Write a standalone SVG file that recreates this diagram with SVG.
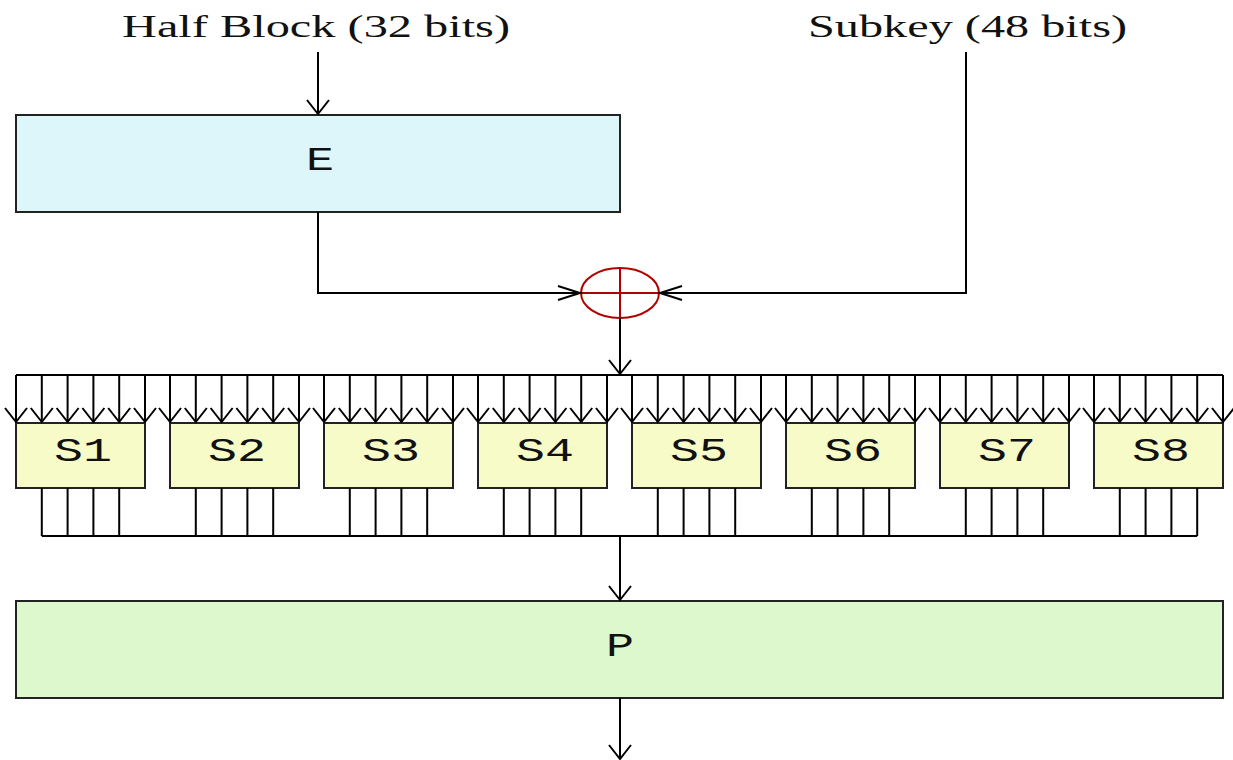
<svg xmlns="http://www.w3.org/2000/svg" width="1233" height="760" viewBox="0 0 1233 760">
<style>
.ln{stroke:#000;stroke-width:2;fill:none}
.box{stroke:#222;stroke-width:2}
.sb{fill:#f6fbc8}
.lbl{font-family:"Liberation Serif",serif;font-size:32px;fill:#111}
.mono{font-family:"Liberation Mono",monospace;font-size:34px;fill:#111;text-anchor:middle}
.xor{stroke:#b00000;stroke-width:2;fill:none}
</style>
<defs>
<marker id="down" markerUnits="userSpaceOnUse" markerWidth="30" markerHeight="30" refX="0" refY="0" overflow="visible" orient="0">
<path d="M-11,-14 L0,0 L11,-14" stroke="#000" stroke-width="2" fill="none"/>
</marker>
<marker id="right" markerUnits="userSpaceOnUse" markerWidth="30" markerHeight="30" refX="0" refY="0" overflow="visible" orient="0">
<path d="M-22,-7 L0,0 L-22,7" stroke="#000" stroke-width="2" fill="none"/>
</marker>
<marker id="left" markerUnits="userSpaceOnUse" markerWidth="30" markerHeight="30" refX="0" refY="0" overflow="visible" orient="0">
<path d="M22,-7 L0,0 L22,7" stroke="#000" stroke-width="2" fill="none"/>
</marker>
</defs>
<rect width="1233" height="760" fill="#fff"/>
<g id="labels">
<text class="lbl" x="122" y="37" textLength="388" lengthAdjust="spacingAndGlyphs">Half Block (32 bits)</text>
<text class="lbl" x="808" y="37" textLength="319" lengthAdjust="spacingAndGlyphs">Subkey (48 bits)</text>
</g>
<g id="E">
<rect class="box" x="16" y="115" width="604" height="97" fill="#dcf6fa"/>
<text class="mono" x="320" y="170" textLength="28" lengthAdjust="spacingAndGlyphs">E</text>
</g>
<g id="XOR">
<ellipse class="xor" cx="620" cy="293" rx="39" ry="25"/>
<path class="xor" d="M581,293 H659 M620,268 V318"/>
</g>
<g id="S1"><rect class="box sb" x="16" y="423" width="129" height="65"/><text class="mono" x="83" y="461" textLength="58" lengthAdjust="spacingAndGlyphs">S1</text></g>
<g id="S2"><rect class="box sb" x="170" y="423" width="129" height="65"/><text class="mono" x="237" y="461" textLength="58" lengthAdjust="spacingAndGlyphs">S2</text></g>
<g id="S3"><rect class="box sb" x="324" y="423" width="129" height="65"/><text class="mono" x="391" y="461" textLength="58" lengthAdjust="spacingAndGlyphs">S3</text></g>
<g id="S4"><rect class="box sb" x="478" y="423" width="129" height="65"/><text class="mono" x="545" y="461" textLength="58" lengthAdjust="spacingAndGlyphs">S4</text></g>
<g id="S5"><rect class="box sb" x="632" y="423" width="129" height="65"/><text class="mono" x="699" y="461" textLength="58" lengthAdjust="spacingAndGlyphs">S5</text></g>
<g id="S6"><rect class="box sb" x="786" y="423" width="129" height="65"/><text class="mono" x="853" y="461" textLength="58" lengthAdjust="spacingAndGlyphs">S6</text></g>
<g id="S7"><rect class="box sb" x="940" y="423" width="129" height="65"/><text class="mono" x="1007" y="461" textLength="58" lengthAdjust="spacingAndGlyphs">S7</text></g>
<g id="S8"><rect class="box sb" x="1094" y="423" width="129" height="65"/><text class="mono" x="1161" y="461" textLength="58" lengthAdjust="spacingAndGlyphs">S8</text></g>
<g id="P">
<rect class="box" x="16" y="601" width="1207" height="97" fill="#dcf8cc"/>
<text class="mono" x="620" y="656" textLength="28" lengthAdjust="spacingAndGlyphs">P</text>
</g>
<g id="connectors">
<path class="ln" d="M318,52 V114" marker-end="url(#down)"/>
<path class="ln" d="M318,212 V293 H580" marker-end="url(#right)"/>
<path class="ln" d="M966,52 V293 H660" marker-end="url(#left)"/>
<path class="ln" d="M620,318 V374" marker-end="url(#down)"/>
<path class="ln" d="M16,375 H1223"/>
<g marker-end="url(#down)" class="ln">
<path d="M16,375 V422"/><path d="M41.8,375 V422"/><path d="M67.6,375 V422"/><path d="M93.4,375 V422"/><path d="M119.2,375 V422"/><path d="M145,375 V422"/>
<path d="M170,375 V422"/><path d="M195.8,375 V422"/><path d="M221.6,375 V422"/><path d="M247.4,375 V422"/><path d="M273.2,375 V422"/><path d="M299,375 V422"/>
<path d="M324,375 V422"/><path d="M349.8,375 V422"/><path d="M375.6,375 V422"/><path d="M401.4,375 V422"/><path d="M427.2,375 V422"/><path d="M453,375 V422"/>
<path d="M478,375 V422"/><path d="M503.8,375 V422"/><path d="M529.6,375 V422"/><path d="M555.4,375 V422"/><path d="M581.2,375 V422"/><path d="M607,375 V422"/>
<path d="M632,375 V422"/><path d="M657.8,375 V422"/><path d="M683.6,375 V422"/><path d="M709.4,375 V422"/><path d="M735.2,375 V422"/><path d="M761,375 V422"/>
<path d="M786,375 V422"/><path d="M811.8,375 V422"/><path d="M837.6,375 V422"/><path d="M863.4,375 V422"/><path d="M889.2,375 V422"/><path d="M915,375 V422"/>
<path d="M940,375 V422"/><path d="M965.8,375 V422"/><path d="M991.6,375 V422"/><path d="M1017.4,375 V422"/><path d="M1043.2,375 V422"/><path d="M1069,375 V422"/>
<path d="M1094,375 V422"/><path d="M1119.8,375 V422"/><path d="M1145.6,375 V422"/><path d="M1171.4,375 V422"/><path d="M1197.2,375 V422"/><path d="M1223,375 V422"/>
</g>
<path class="ln" d="M41.8,488 V536 M67.6,488 V536 M93.4,488 V536 M119.2,488 V536
M195.8,488 V536 M221.6,488 V536 M247.4,488 V536 M273.2,488 V536
M349.8,488 V536 M375.6,488 V536 M401.4,488 V536 M427.2,488 V536
M503.8,488 V536 M529.6,488 V536 M555.4,488 V536 M581.2,488 V536
M657.8,488 V536 M683.6,488 V536 M709.4,488 V536 M735.2,488 V536
M811.8,488 V536 M837.6,488 V536 M863.4,488 V536 M889.2,488 V536
M965.8,488 V536 M991.6,488 V536 M1017.4,488 V536 M1043.2,488 V536
M1119.8,488 V536 M1145.6,488 V536 M1171.4,488 V536 M1197.2,488 V536"/>
<path class="ln" d="M41.8,536 H1197.2"/>
<path class="ln" d="M620,536 V600" marker-end="url(#down)"/>
<path class="ln" d="M620,698 V759" marker-end="url(#down)"/>
</g>
</svg>
